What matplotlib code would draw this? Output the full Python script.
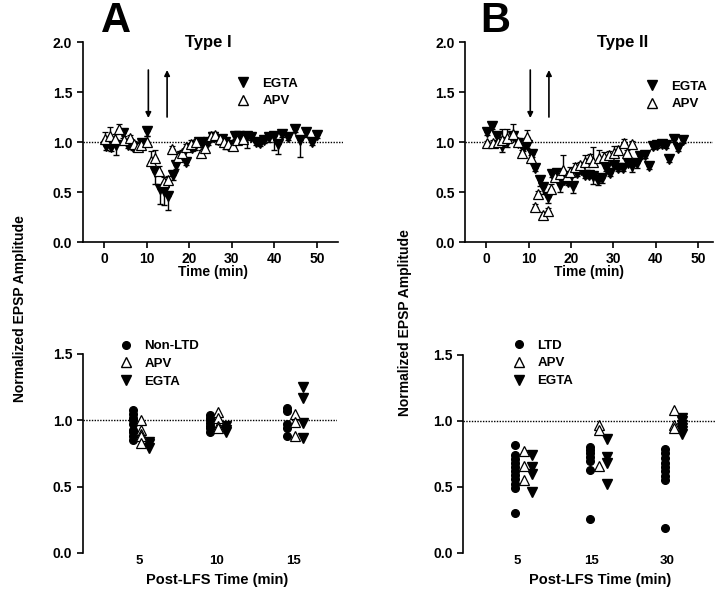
import numpy as np
import matplotlib
matplotlib.use('Agg')
import matplotlib.pyplot as plt
from matplotlib.lines import Line2D
from matplotlib.ticker import FormatStrFormatter

plt.rcParams['font.family'] = ['Liberation Sans', 'DejaVu Sans']
plt.rcParams['font.weight'] = 'bold'
plt.rcParams['axes.labelweight'] = 'bold'

# ---- Type I time course (panel A, top) ----
t1_egta = [0.5, 1.7, 2.9, 4.5, 5.6, 6.8, 8.8, 10.2, 11.9, 13.1,
           14.1, 15.1, 16.2, 17.0, 18.2, 19.2, 20.6, 21.4, 22.3, 23.3,
           24.5, 25.5, 26.7, 27.6, 28.5, 29.6, 30.7, 31.6, 32.6, 33.6,
           34.6, 35.6, 36.5, 37.6, 38.8, 39.8, 40.8, 41.8, 43.2, 44.8,
           46.1, 47.4, 48.7, 50.0]
y1_egta = [0.96, 0.95, 0.97, 1.09, 0.97, 0.95, 0.99, 1.11, 0.70, 0.53,
           0.51, 0.46, 0.67, 0.77, 0.86, 0.80, 0.94, 0.96, 1.00, 0.98,
           1.00, 1.05, 1.02, 1.03, 1.00, 0.97, 1.06, 1.06, 1.05, 1.06,
           1.05, 1.00, 0.99, 1.02, 1.05, 1.06, 0.98, 1.08, 1.05, 1.13,
           1.02, 1.10, 1.00, 1.07]
e1_egta = [0.04, 0.04, 0.10, 0.05, 0.03, 0.03, 0.03, 0.05, 0.12, 0.15,
           0.14, 0.14, 0.05, 0.04, 0.04, 0.03, 0.03, 0.04, 0.03, 0.03,
           0.03, 0.03, 0.04, 0.05, 0.07, 0.05, 0.03, 0.04, 0.03, 0.12,
           0.03, 0.03, 0.03, 0.03, 0.05, 0.14, 0.10, 0.03, 0.03, 0.03,
           0.17, 0.05, 0.03, 0.03]

t1_apv = [0.3, 1.5, 2.5, 3.5, 4.6, 6.0, 7.0, 8.0, 8.6, 10.2,
          11.0, 12.0, 13.0, 14.1, 15.0, 15.9, 17.3, 18.3, 19.3, 20.3,
          21.5, 22.8, 23.8, 25.0, 26.0, 27.2, 28.2, 29.2, 30.2, 31.3,
          32.5]
y1_apv = [1.03, 1.06, 1.03, 1.13, 1.02, 1.04, 0.98, 0.95, 0.97, 1.00,
          0.81, 0.84, 0.71, 0.60, 0.62, 0.93, 0.85, 0.89, 0.95, 0.98,
          1.00, 0.89, 0.94, 1.06, 1.07, 1.03, 1.00, 0.98, 0.96, 1.02,
          1.03]
e1_apv = [0.07, 0.09, 0.05, 0.05, 0.04, 0.03, 0.03, 0.03, 0.03, 0.06,
          0.10, 0.08, 0.05, 0.05, 0.04, 0.03, 0.03, 0.03, 0.03, 0.04,
          0.03, 0.03, 0.03, 0.04, 0.03, 0.03, 0.03, 0.03, 0.03, 0.03,
          0.03]

# ---- Type II time course (panel B, top) ----
t2_egta = [0.3, 1.3, 2.5, 3.7, 4.9, 6.4, 7.6, 8.8, 9.7, 10.9,
           11.6, 12.6, 13.5, 14.5, 15.5, 16.6, 17.4, 18.4, 19.4, 20.4,
           21.4, 22.4, 23.3, 24.3, 25.3, 26.3, 27.2, 28.3, 29.2, 30.2,
           31.2, 32.3, 33.5, 34.5, 35.5, 36.3, 37.4, 38.5, 39.4, 40.4,
           41.4, 42.4, 43.2, 44.3, 45.3, 46.5]
y2_egta = [1.10, 1.16, 1.06, 0.96, 1.00, 1.06, 0.99, 0.94, 0.97, 0.88,
           0.74, 0.62, 0.55, 0.45, 0.68, 0.69, 0.57, 0.62, 0.60, 0.56,
           0.69, 0.72, 0.67, 0.67, 0.66, 0.62, 0.64, 0.74, 0.69, 0.77,
           0.74, 0.74, 0.79, 0.76, 0.79, 0.86, 0.87, 0.76, 0.96, 0.97,
           0.98, 0.97, 0.83, 1.03, 0.94, 1.02]
e2_egta = [0.03, 0.03, 0.05, 0.06, 0.05, 0.03, 0.03, 0.03, 0.03, 0.03,
           0.03, 0.06, 0.07, 0.06, 0.03, 0.03, 0.07, 0.03, 0.03, 0.07,
           0.03, 0.03, 0.03, 0.03, 0.08, 0.05, 0.05, 0.03, 0.03, 0.03,
           0.03, 0.03, 0.03, 0.06, 0.05, 0.03, 0.03, 0.03, 0.03, 0.03,
           0.03, 0.03, 0.03, 0.03, 0.03, 0.03]

t2_apv = [0.2, 1.5, 2.7, 3.7, 5.0, 6.4, 7.6, 8.4, 9.7, 10.6,
          11.6, 12.3, 13.4, 14.6, 15.3, 16.3, 17.3, 18.1, 19.0, 19.8,
          21.0, 22.2, 23.4, 24.5, 25.3, 26.5, 27.7, 28.9, 30.1, 31.2,
          32.4, 33.3, 34.4]
y2_apv = [0.99, 0.99, 1.00, 1.02, 1.04, 1.08, 1.00, 0.89, 1.05, 0.84,
          0.35, 0.48, 0.27, 0.31, 0.53, 0.65, 0.68, 0.72, 0.66, 0.70,
          0.75, 0.77, 0.80, 0.84, 0.80, 0.84, 0.85, 0.87, 0.89, 0.92,
          0.99, 0.89, 0.98]
e2_apv = [0.02, 0.03, 0.05, 0.11, 0.09, 0.10, 0.04, 0.03, 0.07, 0.03,
          0.03, 0.03, 0.03, 0.03, 0.05, 0.03, 0.03, 0.15, 0.05, 0.05,
          0.04, 0.03, 0.07, 0.04, 0.15, 0.08, 0.05, 0.04, 0.07, 0.04,
          0.04, 0.03, 0.03]

lfs_start, lfs_end = 10.4, 14.8

# ---- post-LFS scatter (bottom) ----
cats1 = ['5', '10', '15']
nonltd = [[1.08, 1.05, 1.02, 1.00, 0.97, 0.93, 0.91, 0.88, 0.85],
          [1.04, 1.02, 1.00, 0.98, 0.96, 0.94, 0.91],
          [1.09, 1.07, 0.97, 0.94, 0.88]]
apv_a = [[1.00, 0.93, 0.90, 0.88, 0.83],
         [1.06, 1.02, 0.96, 0.94],
         [1.05, 0.99, 0.88]]
egta_a = [[0.84, 0.82, 0.79],
          [0.96, 0.93, 0.91],
          [1.25, 1.17, 0.98, 0.87]]

cats2 = ['5', '15', '30']
ltd = [[0.82, 0.74, 0.71, 0.68, 0.65, 0.62, 0.59, 0.56, 0.52, 0.49, 0.30],
       [0.80, 0.78, 0.76, 0.73, 0.70, 0.63, 0.26],
       [0.79, 0.76, 0.72, 0.68, 0.65, 0.62, 0.58, 0.55, 0.19]]
apv_b = [[0.77, 0.66, 0.55],
         [0.97, 0.93, 0.66],
         [1.08, 0.97, 0.95]]
egta_b = [[0.74, 0.65, 0.60, 0.46],
          [0.86, 0.73, 0.68, 0.52],
          [1.02, 1.00, 0.97, 0.95, 0.92, 0.90]]


def style_axis(ax, ybound):
    for side in ['top', 'right']:
        ax.spines[side].set_visible(False)
    for side in ['left', 'bottom']:
        ax.spines[side].set_linewidth(1.2)
    ax.spines['left'].set_bounds(0, ybound)
    ax.tick_params(direction='out', length=4, width=1.2, labelsize=10)
    ax.yaxis.set_major_formatter(FormatStrFormatter('%.1f'))
    ax.axhline(1.0, color='k', lw=1.0, ls=(0, (1, 1)), zorder=1)


def time_course(ax, te, ye, ee, ta, ya, ea, xmax):
    ee = np.array(ee)
    ea = np.array(ea)
    ax.errorbar(te, ye, yerr=[ee, np.zeros_like(ee)], fmt='v', ms=7,
                mfc='k', mec='k', ecolor='k', elinewidth=1, capsize=2.5,
                capthick=1, zorder=3)
    ax.errorbar(ta, ya, yerr=[np.zeros_like(ea), ea], fmt='^', ms=7,
                mfc='white', mec='k', mew=0.9, ecolor='k', elinewidth=1,
                capsize=2.5, capthick=1, zorder=4)
    ax.set_xlim(-5, xmax)
    ax.set_ylim(0, 2.0)
    ax.set_xticks([0, 10, 20, 30, 40, 50])
    ax.set_yticks([0.0, 0.5, 1.0, 1.5, 2.0])
    style_axis(ax, 2.0)
    ax.spines['bottom'].set_bounds(-5, 55)
    ax.set_xlabel('Time (min)', fontsize=10)
    ax.xaxis.set_label_coords(0.5, -0.115)
    ax.annotate('', xy=(lfs_start, 1.24), xytext=(lfs_start, 1.72),
                arrowprops=dict(arrowstyle='-|>', lw=1.2, color='k',
                                mutation_scale=8, shrinkA=0, shrinkB=0))
    ax.annotate('', xy=(lfs_end, 1.72), xytext=(lfs_end, 1.25),
                arrowprops=dict(arrowstyle='-|>', lw=1.2, color='k',
                                mutation_scale=8, shrinkA=0, shrinkB=0))
    handles = [Line2D([], [], ls='none', marker='v', ms=7, mfc='k', mec='k'),
               Line2D([], [], ls='none', marker='^', ms=7, mfc='white', mec='k')]
    return handles


def scatter_panel(ax, cats, ctrl, apv, egta, offsets, ctrl_label, xlim):
    for i in range(len(cats)):
        pos = i + 1
        ax.plot(np.full(len(ctrl[i]), pos + offsets[0]), ctrl[i], 'o', ms=5.5,
                mfc='k', mec='k', zorder=3)
        ax.plot(np.full(len(apv[i]), pos + offsets[1]), apv[i], '^', ms=6.5,
                mfc='white', mec='k', mew=0.9, zorder=4)
        ax.plot(np.full(len(egta[i]), pos + offsets[2]), egta[i], 'v', ms=6.5,
                mfc='k', mec='k', zorder=3)
    ax.set_xlim(*xlim)
    ax.set_ylim(0, 1.65)
    ax.set_yticks([0.0, 0.5, 1.0, 1.5])
    ax.set_xticks(range(1, len(cats) + 1))
    ax.set_xticklabels(cats)
    style_axis(ax, 1.5)
    ax.spines['bottom'].set_visible(False)
    ax.tick_params(axis='x', length=0, pad=1.5, labelsize=9.5)
    handles = [Line2D([], [], ls='none', marker='o', ms=5.5, mfc='k', mec='k'),
               Line2D([], [], ls='none', marker='^', ms=6.5, mfc='white', mec='k'),
               Line2D([], [], ls='none', marker='v', ms=6.5, mfc='k', mec='k')]
    ax.legend(handles, [ctrl_label, 'APV', 'EGTA'], loc='upper left',
              frameon=False, fontsize=9.5, borderpad=0, handlelength=1,
              handletextpad=0.9, labelspacing=0.42)


fig = plt.figure(figsize=(7.2, 5.91), dpi=100)

ax1 = fig.add_axes([0.1149, 0.5905, 0.361, 0.3384])
h = time_course(ax1, t1_egta, y1_egta, e1_egta, t1_apv, y1_apv, e1_apv, 56)
ax1.legend(h, ['EGTA', 'APV'], loc='upper left', bbox_to_anchor=(0.565, 0.855),
           frameon=False, fontsize=9.5, borderpad=0, handlelength=1,
           handletextpad=1.0, labelspacing=0.4)

ax2 = fig.add_axes([0.6458, 0.5905, 0.3445, 0.3384])
h = time_course(ax2, t2_egta, y2_egta, e2_egta, t2_apv, y2_apv, e2_apv, 53.5)
ax2.spines['bottom'].set_bounds(-5, 53.5)
ax2.legend(h, ['EGTA', 'APV'], loc='upper left', bbox_to_anchor=(0.70, 0.84),
           frameon=False, fontsize=9.5, borderpad=0, handlelength=1,
           handletextpad=1.0, labelspacing=0.4)

ax3 = fig.add_axes([0.1149, 0.0643, 0.353, 0.3705])
scatter_panel(ax3, cats1, nonltd, apv_a, egta_a, (-0.09, 0.02, 0.12),
              'Non-LTD', (0.26, 3.56))
ax3.legend_.set_bbox_to_anchor((0.118, 1.003), transform=ax3.transAxes)
ax3.set_xlabel('Post-LFS Time (min)', fontsize=10.5)
ax3.xaxis.set_label_coords(0.53, -0.09)

ax4 = fig.add_axes([0.643, 0.0643, 0.35, 0.3688])
scatter_panel(ax4, cats2, ltd, apv_b, egta_b, (-0.02, 0.09, 0.2),
              'LTD', (0.28, 3.64))
ax4.legend_.set_bbox_to_anchor((0.17, 1.01), transform=ax4.transAxes)
ax4.set_xlabel('Post-LFS Time (min)', fontsize=10.5)
ax4.xaxis.set_label_coords(0.545, -0.09)

fig.text(116 / 720, 1 - 21 / 591, 'A', fontsize=30, weight='bold',
         ha='center', va='center')
fig.text(495 / 720, 1 - 21 / 591, 'B', fontsize=30, weight='bold',
         ha='center', va='center')
fig.text(208 / 720, 1 - 42 / 591, 'Type I', fontsize=12, weight='bold',
         ha='center', va='center')
fig.text(623 / 720, 1 - 42 / 591, 'Type II', fontsize=12, weight='bold',
         ha='center', va='center')
fig.text(20 / 720, 1 - 309 / 591, 'Normalized EPSP Amplitude', fontsize=10,
         weight='bold', rotation=90, ha='center', va='center')
fig.text(405 / 720, 1 - 323 / 591, 'Normalized EPSP Amplitude', fontsize=10,
         weight='bold', rotation=90, ha='center', va='center')

fig.savefig('out.png', dpi=100)
plt.close(fig)
